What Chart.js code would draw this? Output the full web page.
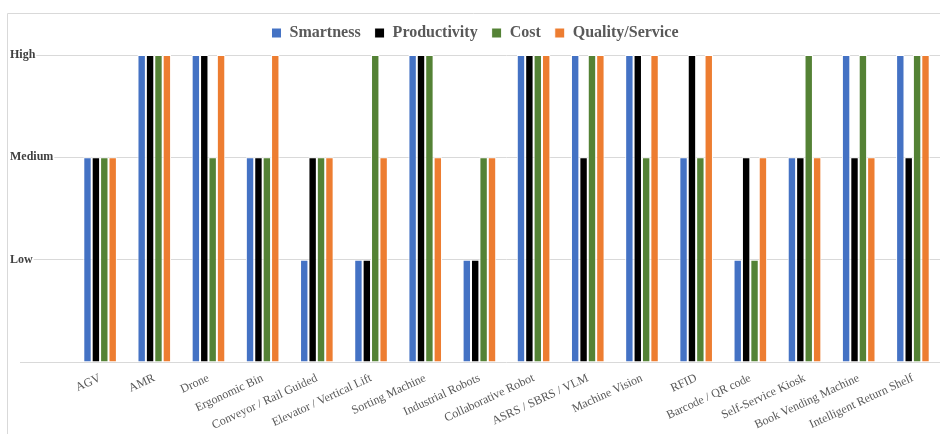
<!DOCTYPE html>
<html>
<head>
<meta charset="utf-8">
<script src="https://cdn.jsdelivr.net/npm/chart.js@4"></script>
<style>
  html, body { margin: 0; padding: 0; background: #fff; }
  #wrap { position: relative; width: 940px; height: 434px; }
</style>
</head>
<body>
<div id="wrap"><canvas id="techChart"></canvas></div>
<script>
const categories = ['AGV', 'AMR', 'Drone', 'Ergonomic Bin', 'Conveyor / Rail Guided', 'Elevator / Vertical Lift',
  'Sorting Machine', 'Industrial Robots', 'Collaborative Robot', 'ASRS / SBRS / VLM', 'Machine Vision', 'RFID',
  'Barcode / QR code', 'Self-Service Kiosk', 'Book Vending Machine', 'Intelligent Return Shelf'];

// 1 = Low, 2 = Medium, 3 = High
const smartness    = [2, 3, 3, 2, 1, 1, 3, 1, 3, 3, 3, 2, 1, 2, 3, 3];
const productivity = [2, 3, 3, 2, 2, 1, 3, 1, 3, 2, 3, 3, 2, 2, 2, 2];
const cost         = [2, 3, 2, 2, 2, 3, 3, 2, 3, 3, 2, 2, 1, 3, 3, 3];
const quality      = [2, 3, 3, 3, 2, 2, 2, 2, 3, 3, 3, 3, 2, 2, 2, 3];

const levelLabels = ['', 'Low', 'Medium', 'High'];

const serif = '"Liberation Serif", "DejaVu Serif", serif';

// light frame like the Excel chart area border
const framePlugin = {
    id: 'frame',
    beforeLayout(chart) {
        // a bit more room under the legend
        const lg = chart.legend;
        if (lg && !lg._extraRoom) {
            const fit = lg.fit;
            lg.fit = function() { fit.call(this); this.height += 4; };
            lg._extraRoom = true;
        }
    },
    beforeDraw(chart) {
        const c = chart.ctx;
        c.save();
        c.strokeStyle = '#d9d9d9';
        c.lineWidth = 1;
        c.beginPath();
        c.moveTo(7.5, chart.height);
        c.lineTo(7.5, 13.5);
        c.lineTo(chart.width, 13.5);
        c.stroke();
        c.restore();
    }
};

function series(label, data, color) {
    return {
        label: label,
        data: data,
        backgroundColor: color,
        borderColor: '#ffffff',
        borderWidth: 1,
        categoryPercentage: 0.62,
        barPercentage: 1
    };
}

const ctx = document.getElementById('techChart').getContext('2d');
new Chart(ctx, {
    type: 'bar',
    data: {
        labels: categories,
        datasets: [
            series('Smartness', smartness, '#4472C4'),
            series('Productivity', productivity, '#000000'),
            series('Cost', cost, '#548235'),
            series('Quality/Service', quality, '#ED7D31')
        ]
    },
    options: {
        responsive: true,
        maintainAspectRatio: false,
        animation: false,
        layout: {
            padding: { top: 11, left: 10, right: 0, bottom: 0 }
        },
        plugins: {
            legend: {
                position: 'top',
                labels: {
                    boxWidth: 10,
                    boxHeight: 10,
                    padding: 14,
                    color: '#595959',
                    font: { family: serif, size: 16, weight: 'bold' }
                }
            },
            tooltip: { enabled: false }
        },
        scales: {
            x: {
                grid: { display: false, drawTicks: true, tickLength: 6 },
                border: { display: false },
                ticks: {
                    autoSkip: false,
                    minRotation: 25,
                    maxRotation: 25,
                    padding: 3,
                    color: '#595959',
                    font: { family: serif, size: 12 }
                },
                afterFit: function(s) { s.height = 72; }
            },
            y: {
                min: 0,
                max: 3,
                border: { display: false },
                grid: {
                    color: '#d9d9d9',
                    lineWidth: 1,
                    tickLength: 53
                },
                ticks: {
                    stepSize: 1,
                    crossAlign: 'far',
                    color: '#404040',
                    showLabelBackdrop: true,
                    backdropColor: '#ffffff',
                    backdropPadding: { left: 0, right: 1, top: 0, bottom: 0 },
                    font: { family: serif, size: 12, weight: 'bold' },
                    callback: function(v) { return levelLabels[v] || ''; }
                },
                afterFit: function(s) { s.width = 63; }
            }
        }
    },
    plugins: [framePlugin]
});
</script>
</body>
</html>
